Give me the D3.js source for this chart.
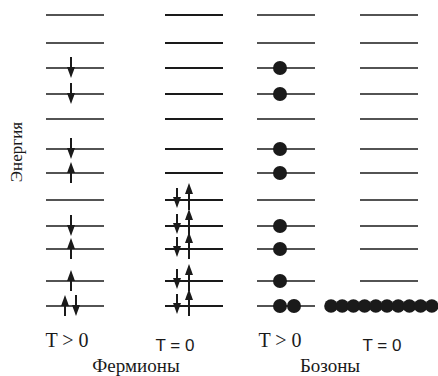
<!DOCTYPE html>
<html><head><meta charset="utf-8">
<script src="https://cdn.jsdelivr.net/npm/d3@7"></script>
<style>html,body{margin:0;padding:0;background:#fff;}svg{display:block;}</style>
</head><body>
<svg id="chart" width="438" height="376"></svg>
<script>
// Energy levels (arbitrary units, bottom = 0)
const levels = [0, 1.0, 2.28, 3.2, 4.24, 5.32, 6.28, 7.48, 8.48, 9.52, 10.52, 11.64];
// Panels
const panels = ["fHot", "fCold", "bHot", "bCold"];
const panelLabels = ["T > 0", "T = 0", "T > 0", "T = 0"];
const groups = ["Фермионы", "Бозоны"];
const yLabel = "Энергия";
// Fermions T>0: [level index, spin]
const fermionHot = [[0, "up"], [0, "down"], [1, "up"], [2, "up"], [3, "down"], [5, "up"], [6, "down"], [8, "down"], [9, "down"]];
// Fermions T=0: filled pairs
const fermionCold = [[0, "down"], [0, "up"], [1, "down"], [1, "up"], [2, "down"], [2, "up"], [3, "down"], [3, "up"], [4, "down"], [4, "up"]];
// Bosons: [level index, count]
const bosonHot = [[0, 2], [1, 1], [2, 1], [3, 1], [5, 1], [6, 1], [8, 1], [9, 1]];
const bosonCold = [[0, 10]];

const svg = d3.select("#chart");
const y = d3.scaleLinear().domain([0, d3.max(levels)]).range([306, 15]);
const xc = d3.scaleOrdinal().domain(panels).range([75, 194, 286, 389]);
const labelX = d3.scaleOrdinal().domain(panels).range([67, 175, 280, 382]);
const groupX = d3.scaleOrdinal().domain(groups).range([136, 330]);
const halfW = 29;
const ink = "#1a1a1a";

// level lines
panels.forEach(p => {
  svg.append("g").selectAll("line").data(levels).join("line")
    .attr("x1", xc(p) - halfW).attr("x2", xc(p) + halfW)
    .attr("y1", d => y(d)).attr("y2", d => y(d))
    .attr("stroke", ink).attr("stroke-width", p === "fCold" ? 1.8 : 1.6);
});

function arrow(g, x, yl, dir, up0, down0) {
  const tail = dir === "up" ? yl + down0 : yl - up0;
  const tip = dir === "up" ? yl - up0 : yl + down0;
  const s = dir === "up" ? 1 : -1;
  g.append("line").attr("x1", x).attr("x2", x).attr("y1", tail).attr("y2", tip + s * 6)
    .attr("stroke", ink).attr("stroke-width", 2);
  g.append("path")
    .attr("d", `M${x},${tip} L${x - 4},${tip + s * 11} L${x + 4},${tip + s * 11} Z`)
    .attr("fill", ink);
}

const gF1 = svg.append("g");
const countByLevel = {};
fermionHot.forEach(([li, spin]) => {
  const n = fermionHot.filter(d => d[0] === li).length;
  const k = countByLevel[li] || 0;
  countByLevel[li] = k + 1;
  const x = n === 1 ? xc("fHot") - 4 : xc("fHot") - 10 + k * 11;
  arrow(gF1, x, y(levels[li]), spin, 11, 10);
});

const gF2 = svg.append("g");
fermionCold.forEach(([li, spin]) => {
  const yl = y(levels[li]);
  if (spin === "down") arrow(gF2, xc("fCold") - 17, yl, "down", 12, 8);
  else arrow(gF2, xc("fCold") - 5, yl, "up", 17, 10);
});

const gB1 = svg.append("g");
bosonHot.forEach(([li, n]) => {
  gB1.selectAll(null).data(d3.range(n)).join("circle")
    .attr("cx", i => xc("bHot") - 6 + i * 14).attr("cy", y(levels[li]))
    .attr("r", 7).attr("fill", ink);
});

const gB2 = svg.append("g");
bosonCold.forEach(([li, n]) => {
  gB2.selectAll(null).data(d3.range(n)).join("circle")
    .attr("cx", i => xc("bCold") - 58 + i * 11.2).attr("cy", y(levels[li]))
    .attr("r", 6.8).attr("fill", ink);
});

// panel labels
svg.append("g").selectAll("text").data(panels).join("text")
  .attr("x", d => labelX(d)).attr("y", (d, i) => i % 2 === 0 ? 347 : 351)
  .attr("text-anchor", "middle")
  .attr("font-family", (d, i) => i % 2 === 0 ? "Liberation Serif, serif" : "Liberation Sans, sans-serif")
  .attr("font-size", (d, i) => i % 2 === 0 ? 20 : 17)
  .attr("fill", ink)
  .text((d, i) => panelLabels[i]);

// group labels
svg.append("g").selectAll("text").data(groups).join("text")
  .attr("x", d => groupX(d)).attr("y", 372)
  .attr("text-anchor", "middle")
  .attr("font-family", "Liberation Serif, serif")
  .attr("font-size", 19)
  .attr("fill", ink)
  .text(d => d);

// y label
svg.append("text")
  .attr("transform", "translate(22,152) rotate(-90)")
  .attr("text-anchor", "middle")
  .attr("font-family", "Liberation Serif, serif")
  .attr("font-size", 17)
  .attr("fill", ink)
  .text(yLabel);
</script>
</body></html>
